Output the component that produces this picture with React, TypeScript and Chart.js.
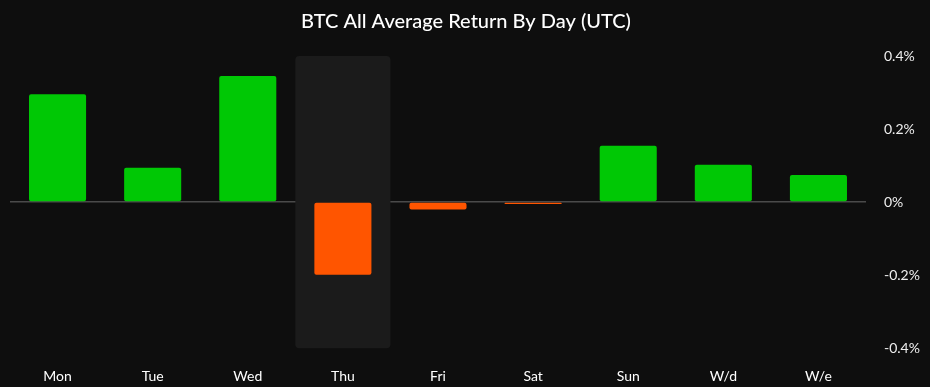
import React, { useEffect, useRef } from "react";
import { Chart, registerables } from "chart.js";

Chart.register(...registerables);

const categories = ["Mon", "Tue", "Wed", "Thu", "Fri", "Sat", "Sun", "W/d", "W/e"];
const returns = [0.295, 0.094, 0.345, -0.199, -0.02, -0.004, 0.154, 0.102, 0.074];
const yTicks = [-0.4, -0.2, 0, 0.2, 0.4];
const highlightIndex = 3;
const titleText = "BTC All Average Return By Day (UTC)";

const GREEN = "#00c805";
const ORANGE = "#ff5500";
const FONT = "Lato, 'Noto Sans', sans-serif";

const highlightPlugin = {
  id: "highlightCol",
  beforeDatasetsDraw(chart: any) {
    const { ctx, chartArea, scales } = chart;
    const x = scales.x;
    const c = x.getPixelForValue(highlightIndex);
    const w = (chartArea.right - chartArea.left) / categories.length;
    const left = c - w / 2;
    const top = chartArea.top;
    const h = chartArea.bottom - chartArea.top;
    const r = 4;
    ctx.save();
    ctx.fillStyle = "#1b1b1b";
    ctx.beginPath();
    ctx.moveTo(left + r, top);
    ctx.lineTo(left + w - r, top);
    ctx.quadraticCurveTo(left + w, top, left + w, top + r);
    ctx.lineTo(left + w, top + h - r);
    ctx.quadraticCurveTo(left + w, top + h, left + w - r, top + h);
    ctx.lineTo(left + r, top + h);
    ctx.quadraticCurveTo(left, top + h, left, top + h - r);
    ctx.lineTo(left, top + r);
    ctx.quadraticCurveTo(left, top, left + r, top);
    ctx.closePath();
    ctx.fill();
    ctx.restore();
  },
};

export default function App() {
  const ref = useRef<HTMLCanvasElement>(null);
  useEffect(() => {
    if (!ref.current) return;
    const chart = new Chart(ref.current, {
      type: "bar",
      data: {
        labels: categories,
        datasets: [
          {
            data: returns,
            backgroundColor: returns.map((v) => (v >= 0 ? GREEN : ORANGE)),
            borderWidth: 0,
            borderRadius: 2,
            borderSkipped: false,
            barPercentage: 0.6,
            categoryPercentage: 1,
            minBarLength: 2,
          },
        ],
      },
      options: {
        animation: false,
        responsive: false,
        maintainAspectRatio: false,
        layout: { padding: { left: 10, right: 8, top: 10, bottom: -10 } },
        plugins: {
          legend: { display: false },
          tooltip: { enabled: false },
          title: {
            display: true,
            text: titleText,
            color: "#ffffff",
            font: { family: FONT, size: 20, weight: "500" as any },
            padding: { top: 0, bottom: 22 },
          },
        },
        scales: {
          x: {
            grid: { display: false },
            border: { display: false },
            ticks: {
              color: "#ffffff",
              font: { family: FONT, size: 14 },
              padding: 12,
              maxRotation: 0,
            },
          },
          y: {
            position: "right",
            min: -0.4,
            max: 0.4,
            afterBuildTicks: (axis: any) => {
              axis.ticks = yTicks.map((v) => ({ value: v }));
            },
            afterFit: (axis: any) => {
              axis.width = 56;
            },
            grid: {
              drawTicks: false,
              color: (ctx: any) => (ctx.tick && ctx.tick.value === 0 ? "#4a4a4a" : "rgba(0,0,0,0)"),
              lineWidth: 1.5,
            },
            border: { display: false },
            ticks: {
              color: "#eeeeee",
              font: { family: FONT, size: 14 },
              padding: 18,
              callback: (v: any) => `${Math.round(Number(v) * 10) / 10}%`,
            },
          },
        },
      },
      plugins: [highlightPlugin],
    });
    return () => chart.destroy();
  }, []);
  return (
    <div style={{ position: "fixed", left: 0, top: 0, width: 930, height: 387, background: "#0e0e0e" }}>
      <canvas ref={ref} width={930} height={387} style={{ display: "block" }} />
    </div>
  );
}
